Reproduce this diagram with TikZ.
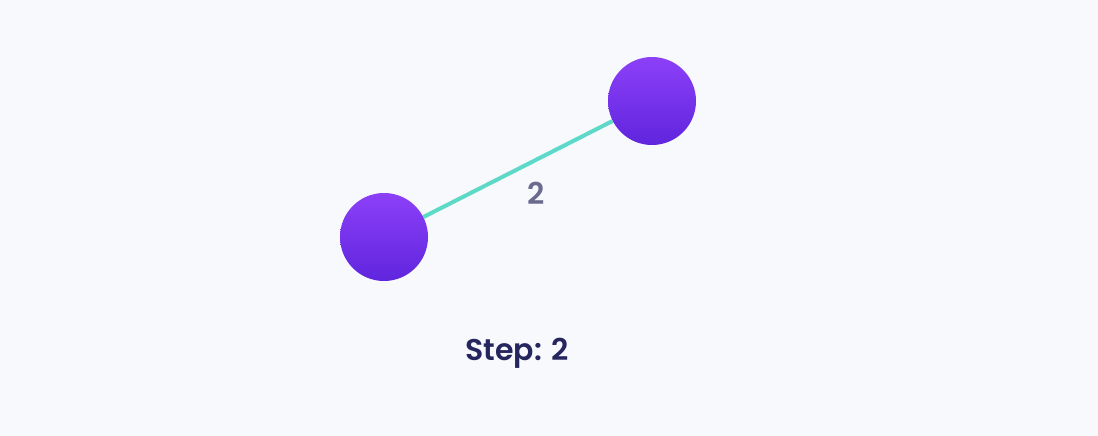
\documentclass[tikz,border=0pt]{standalone}
\usepackage{fontspec}
\setmainfont{Poppins}[BoldFont={Poppins SemiBold}]
\definecolor{bgcol}{HTML}{F8F9FC}
\definecolor{vtop}{HTML}{8C40F8}
\definecolor{vbot}{HTML}{5F25DD}
\definecolor{edgecol}{HTML}{5DD9C8}
\definecolor{wcol}{HTML}{6B6B90}
\definecolor{stepcol}{HTML}{25265E}

\begin{document}
\begin{tikzpicture}[x=1pt, y=-1pt,
  vert/.style={circle, minimum size=88pt, inner sep=0pt, top color=vtop, bottom color=vbot, draw=none},
  weight/.style={text=wcol, anchor=base, inner sep=0pt, font=\fontsize{30}{34}\selectfont\bfseries},
  caption/.style={text=stepcol, anchor=base, inner sep=0pt, font=\fontsize{30}{34}\selectfont\bfseries}]

\fill [bgcol] (0, 0) rectangle (1098, 436);
\useasboundingbox (0, 0) rectangle (1098, 436);

\node [vert] (A) at (384, 237) {};
\node [vert] (B) at (652, 101) {};
\node [weight] (wAB) at (536, 204) {2};
\node [caption] (step) at (517, 360) {Step: 2};

\draw [line width=4pt, draw=edgecol] (A) to (B);

\end{tikzpicture}
\end{document}
